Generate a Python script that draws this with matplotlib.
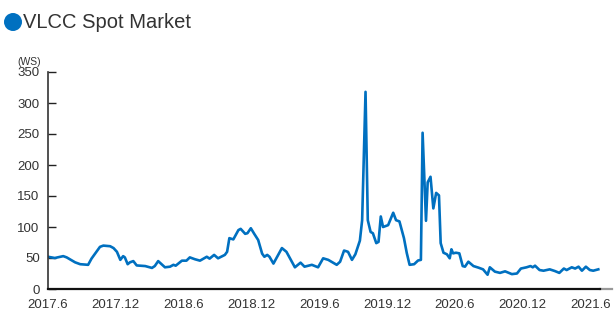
import numpy as np
import matplotlib
matplotlib.use('Agg')
import matplotlib.pyplot as plt
from matplotlib.patches import Ellipse

plt.rcParams['font.family'] = ['Liberation Sans Narrow', 'Liberation Sans', 'DejaVu Sans']

# months since 2017.6
months = [0.0, 0.6, 1.35, 1.65, 2.4, 2.85, 3.55, 3.85, 4.6, 4.9, 5.5, 5.8, 6.1, 6.4, 6.65,
          6.8, 7.05, 7.25, 7.55, 7.85, 8.6, 9.2, 9.45, 9.75, 10.35, 10.8, 11.1, 11.3, 11.85,
          12.25, 12.55, 13.0, 13.45, 14.05, 14.3, 14.7, 15.05, 15.65, 15.85, 16.05, 16.4,
          16.85, 17.05, 17.45, 17.65, 17.95, 18.25, 18.6, 18.95, 19.15, 19.4, 19.6, 19.95,
          20.7, 21.1, 21.4, 21.85, 22.35, 22.7, 23.35, 23.9, 24.35, 24.8, 25.55, 25.85, 26.2,
          26.55, 26.9, 27.2, 27.6, 27.8, 28.1, 28.3, 28.55, 28.75, 29.05, 29.25, 29.45, 29.65,
          30.1, 30.55, 30.8, 31.1, 31.5, 31.75, 32.0, 32.4, 32.75, 33.0, 33.15, 33.45, 33.6,
          33.85, 34.1, 34.35, 34.6, 34.75, 35.0, 35.3, 35.55, 35.7, 35.85, 36.1, 36.4, 36.7,
          36.9, 37.2, 37.65, 38.1, 38.5, 38.9, 39.1, 39.55, 40.0, 40.45, 41.05, 41.5, 41.85,
          42.35, 42.7, 42.9, 43.1, 43.5, 43.85, 44.4, 44.85, 45.25, 45.65, 45.9, 46.35, 46.65,
          46.95, 47.25, 47.6, 47.95, 48.25, 48.7]
ws = [52, 50, 53, 51, 43, 40, 39, 49, 68, 70, 69, 66, 60, 47, 53,
      51, 40, 43, 45, 38, 37, 34, 37, 45, 35, 36, 39, 37.6, 45.7,
      45.7, 51, 48, 45.7, 52, 49, 55, 49.5, 55, 60, 82, 80,
      95, 97, 89, 90, 98, 89, 79, 57, 52, 55, 52, 41,
      66, 60, 50, 35, 42.5, 36, 39, 35, 49.5, 47, 39, 44, 62,
      60, 47, 56, 78, 111, 318, 111, 92, 90, 74, 76, 117, 100,
      103, 123, 111, 109, 82, 58, 39, 40, 46, 47, 252, 110, 172,
      181, 130, 155, 151, 74, 58.5, 56, 49.5, 64, 57.5, 58.5, 57.5, 37,
      36, 44, 37, 34.4, 31.7, 23, 35, 28, 26, 28.5, 24, 25, 33,
      35, 37, 35, 37.6, 30.6, 29.5, 31.7, 29, 26, 33, 30.6, 35, 33,
      36, 29.5, 36, 30.6, 29.5, 31.7]

tick_pos = [0, 6, 12, 18, 24, 30, 36, 42, 48]
tick_labels = ['2017.6', '2017.12', '2018.6', '2018.12', '2019.6',
               '2019.12', '2020.6', '2020.12', '2021.6']
yticks = [0, 50, 100, 150, 200, 250, 300, 350]

fig = plt.figure(figsize=(6.14, 3.2), dpi=100)
ax = fig.add_axes([48/614, 31/320, (612-48)/614, (289-72)/320])

ax.plot(months, ws, color='#0070c0', lw=1.9, solid_joinstyle='round')

xmax = (612-48)/11.3
ax.set_xlim(0, xmax)
ax.set_ylim(0, 350)
ax.set_xticks(tick_pos)
ax.set_xticklabels(tick_labels)
ax.set_yticks(yticks)
ax.tick_params(axis='x', length=0, pad=7, labelsize=9.5, labelcolor='#333333')
ax.tick_params(axis='y', direction='in', length=6, width=1, pad=6,
               labelsize=9.5, labelcolor='#333333', color='#222222')

for s in ['top', 'right']:
    ax.spines[s].set_visible(False)
ax.spines['left'].set_color('#333333')
ax.spines['left'].set_linewidth(1.2)
ax.spines['bottom'].set_color('#111111')
ax.spines['bottom'].set_linewidth(1.6)
ax.spines['bottom'].set_bounds(0, (600-48)/11.3)
ax.axhline(0, xmin=(600-48)/(612-48), xmax=1, color='#999999', lw=1.6, clip_on=False)

fig.text(17/614, 1-62/320, '(WS)', fontsize=7.5, color='#333333', va='center', ha='left')

fig.patches.append(Ellipse((13/614, 1-22/320), 18/614, 18/320, transform=fig.transFigure,
                           facecolor='#0070c0', edgecolor='none'))
fig.text(23/614, 1-22/320, 'VLCC Spot Market', fontsize=14.5, color='#333333',
         va='center', ha='left')

fig.savefig('out.png', dpi=100)
